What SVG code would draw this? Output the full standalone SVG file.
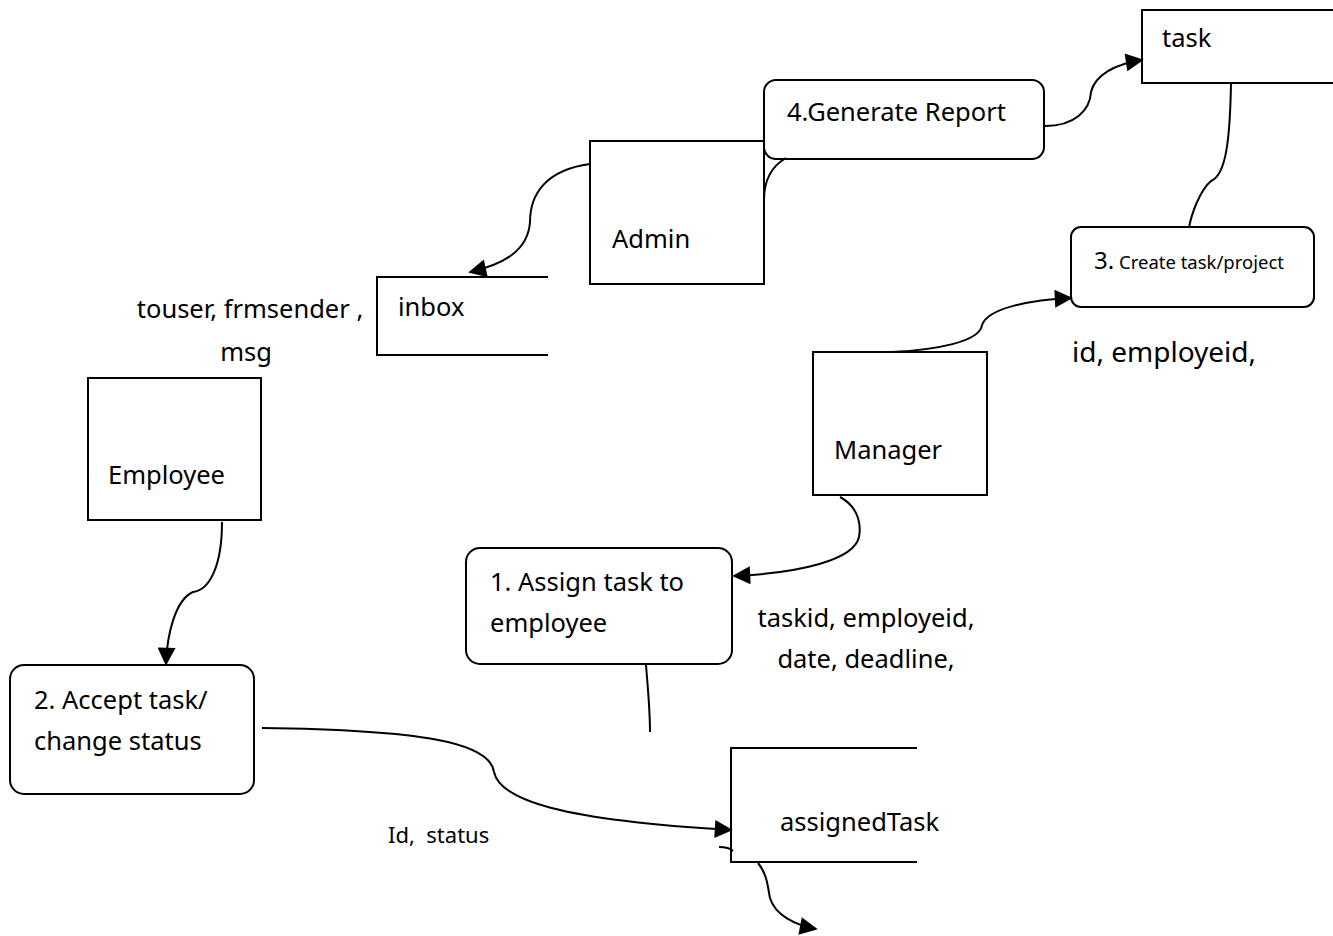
<svg xmlns="http://www.w3.org/2000/svg" width="1333" height="936" viewBox="0 0 1333 936">
<defs>
<style>
.b{fill:#fff;stroke:#000;stroke-width:2}
.o{fill:none;stroke:#000;stroke-width:2}
.t{font-family:"Noto Sans","Open Sans",sans-serif;font-size:25.5px;fill:#000}
.c{fill:none;stroke:#000;stroke-width:2}
</style>
<marker id="ahb" viewBox="0 0 10 10" refX="9" refY="5" markerWidth="20" markerHeight="18" markerUnits="userSpaceOnUse" orient="auto"><path d="M0,0 L10,5 L0,10 z" fill="#000"/></marker>
</defs>
<rect width="1333" height="936" fill="#fff"/>
<g id="task"><path class="o" d="M1333,10 H1142 V83 H1333"/><text class="t" x="1162" y="47">task</text></g>
<g id="report"><rect class="b" x="764" y="80" width="280" height="79" rx="12"/><text class="t" x="787" y="121">4.Generate Report</text></g>
<g id="admin"><rect class="b" x="590" y="141" width="174" height="143"/><text class="t" x="612" y="248">Admin</text></g>
<g id="inbox"><path class="o" d="M548,277 H377 V355 H548"/><text class="t" x="398" y="316">inbox</text></g>
<g id="inboxlabel"><text class="t" x="250" y="318" text-anchor="middle">touser, frmsender ,</text><text class="t" x="246" y="361" text-anchor="middle">msg</text></g>
<g id="employee"><rect class="b" x="88" y="378" width="173" height="142"/><text class="t" x="108" y="484">Employee</text></g>
<g id="accept"><rect class="b" x="10" y="665" width="244" height="129" rx="14"/><text class="t" x="34" y="709">2. Accept task/</text><text class="t" x="34" y="750">change status</text></g>
<g id="assign"><rect class="b" x="466" y="548" width="266" height="116" rx="14"/><text class="t" x="490" y="591">1. Assign task to</text><text class="t" x="490" y="632">employee</text></g>
<g id="assignlabel"><text class="t" x="866" y="627" text-anchor="middle">taskid, employeid,</text><text class="t" x="866" y="668" text-anchor="middle">date, deadline,</text></g>
<g id="manager"><rect class="b" x="813" y="352" width="174" height="143"/><text class="t" x="834" y="459">Manager</text></g>
<g id="create"><rect class="b" x="1071" y="227" width="243" height="80" rx="10"/><text class="t" x="1094" y="269"><tspan style="font-size:24px">3.</tspan><tspan style="font-size:18.5px"> Create task/project</tspan></text></g>
<g id="createlabel"><text class="t" x="1072" y="362" style="font-size:28px">id, employeid,</text></g>
<g id="assignedTask"><path class="o" d="M917,748 H731 V862 H917"/><text class="t" x="780" y="831">assignedTask</text></g>
<g id="statuslabel"><text class="t" x="388" y="843" style="font-size:22px;white-space:pre" xml:space="preserve">Id,  status</text></g>
<g id="connectors">
<path class="c" d="M590,164 C545,170 530,195 530,222 C528,250 505,264 470,272" marker-end="url(#ahb)"/>
<path class="c" d="M764,200 C764,180 772,166 786,158"/>
<path class="c" d="M1045,126 C1075,126 1090,110 1091,92 C1095,75 1115,64 1142,60" marker-end="url(#ahb)"/>
<path class="c" d="M1231,83 C1230,140 1226,175 1211,181 C1200,190 1191,215 1189,228"/>
<path class="c" d="M892,352 C935,350 980,342 982,325 C988,308 1030,300 1071,298" marker-end="url(#ahb)"/>
<path class="c" d="M840,497 C855,505 862,520 859,537 C854,560 800,573 734,576" marker-end="url(#ahb)"/>
<path class="c" d="M646,665 C648,690 650,710 650,732"/>
<path class="c" d="M222,522 C222,565 210,590 193,592 C175,600 167,635 166,664" marker-end="url(#ahb)"/>
<path class="c" d="M262,728 C420,730 490,742 494,772 C500,800 560,820 731,830" marker-end="url(#ahb)"/>
<path class="c" d="M719,847 C725,847 730,848 733,851"/>
<path class="c" d="M758,863 C768,875 768,890 770,898 C775,915 795,925 816,929" marker-end="url(#ahb)"/>
</g>
</svg>
